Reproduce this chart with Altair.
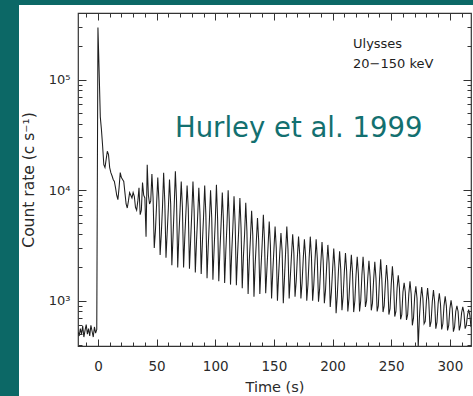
import altair as alt
import pandas as pd

# ---- data (1 s bins) ----
pre_burst = [520, 480, 560, 500, 590, 470, 540, 610, 500, 560, 480, 600, 530, 470, 580, 510, 550]
initial_spike = [296000, 120000, 46000, 35000, 25000, 17000, 16000, 19000, 22500, 21000,
                 16000, 14400, 13500, 12500, 12000, 10500, 9000, 8200, 10500, 14400,
                 13000, 12500, 12000, 9500, 7500, 6900, 8000, 9500, 9000, 8500,
                 9500, 8800, 7000, 6600, 8000, 10500, 6000, 6600, 11700, 9000]
pulsating_tail = [
    8500, 3800, 17000, 9000, 7500, 8000, 14000, 8500, 3000, 4300,
    7500, 13000, 8000, 2600, 4000, 7000, 14400, 7800, 2450, 4100,
    6800, 12500, 7500, 2100, 3800, 7200, 14800, 8000, 2000, 3900,
    6600, 12000, 7000, 2000, 3700, 6300, 11000, 6800, 1950, 3500,
    6200, 12000, 6500, 1800, 3400, 5800, 10500, 6000, 1750, 3300,
    5700, 11000, 6000, 1600, 3100, 5300, 10000, 5600, 1550, 2900,
    5200, 11200, 5500, 1500, 2900, 5000, 9500, 5200, 1450, 2800,
    4900, 10000, 5100, 1400, 2700, 4600, 8800, 4800, 1380, 2600,
    4400, 8500, 4500, 1300, 2500, 4000, 7700, 4200, 1150, 2300,
    3700, 6500, 3900, 1090, 2100, 3400, 5600, 3500, 1150, 2000,
    3300, 6000, 3400, 1170, 1900, 3100, 5200, 3200, 1050, 1800,
    2900, 4700, 3000, 1000, 1700, 2700, 4100, 2800, 950, 1600,
    2800, 4700, 2900, 1050, 1650, 2600, 4000, 2700, 1090, 1500,
    2500, 3800, 2600, 1050, 1450, 2400, 3600, 2500, 1000, 1400,
    2400, 3800, 2500, 1000, 1400, 2300, 3600, 2400, 980, 1300,
    2200, 3400, 2300, 950, 1250, 2100, 3200, 2200, 880, 1200,
    1900, 2970, 2000, 770, 1100, 1850, 2800, 1900, 820, 1100,
    1800, 2700, 1850, 800, 1050, 1750, 2600, 1800, 790, 1000,
    1700, 2500, 1750, 800, 1000, 1700, 2500, 1700, 880, 1000,
    1600, 2300, 1650, 820, 950, 1550, 2250, 1600, 800, 900,
    1550, 2370, 1550, 790, 900, 1450, 2100, 1500, 750, 850,
    1400, 2050, 1450, 720, 800, 1300, 1700, 1300, 680, 750,
    1200, 1450, 1200, 670, 750, 1150, 1500, 1150, 600, 700,
    1100, 1350, 1050, 380, 700, 1050, 1330, 1050, 620, 650,
    1000, 1300, 1000, 580, 650, 980, 1250, 980, 560, 640,
    950, 1170, 930, 550, 620, 900, 1100, 900, 540, 600,
    850, 1010, 850, 525, 580, 800, 900, 800, 540, 600,
    780, 880, 780, 560, 600, 740, 830, 740, 580,
]
counts = pre_burst + initial_spike + pulsating_tail
t_start = -17
time_s = list(range(t_start, t_start + len(counts)))

x_domain = [-17, 318]
y_domain = [390, 400000]
x_major = [0, 50, 100, 150, 200, 250, 300]
x_minor = [-10, 10, 20, 30, 40, 60, 70, 80, 90, 110, 120, 130, 140, 160, 170, 180, 190,
           210, 220, 230, 240, 260, 270, 280, 290, 310]
y_major = [1000, 10000, 100000]
y_minor = [400, 500, 600, 700, 800, 900, 2000, 3000, 4000, 5000, 6000, 7000, 8000, 9000,
           20000, 30000, 40000, 50000, 60000, 70000, 80000, 90000, 200000, 300000]
notes = ["Ulysses", "20\u2212150 keV"]
citation = ["Hurley et al. 1999"]

W, H = 393, 333
TEAL = "#0c6866"
INK = "#1e1e1e"
TXT = "#2a2a2a"
TICK = "#333333"
FONT = "DejaVu Sans"
MAJ_X, MAJ_Y, MIN_L = 7, 8, 4

xs = alt.Scale(domain=x_domain, nice=False, zero=False)
ys = alt.Scale(type="log", domain=y_domain, nice=False)


def tick_axis(orient, values, length, **kw):
    # ticks drawn outward from an axis line pulled inside the frame -> inward-looking ticks
    base = dict(orient=orient, values=values, tickSize=length, offset=-length, tickColor=TICK,
                tickWidth=1, domain=False, grid=False, zindex=2, labels=False, title=None)
    base.update(kw)
    return alt.Axis(**base)


x_axis_main = tick_axis(
    "bottom", x_major, MAJ_X, labels=True, title="Time (s)",
    labelPadding=13, labelFont=FONT, labelFontSize=13.5, labelColor=TXT,
    titleFont=FONT, titleFontSize=14.5, titleFontWeight="normal", titleColor=TXT,
    titlePadding=8)
y_axis_main = tick_axis(
    "left", y_major, MAJ_Y, labels=True, title="Count rate (c s\u207b\u00b9)",
    labelExpr="datum.value == 1000 ? '10\u00b3' : datum.value == 10000 ? '10\u2074' : '10\u2075'",
    labelPadding=8, labelFont=FONT, labelFontSize=13, labelColor=TXT,
    titleFont=FONT, titleFontSize=15.5, titleFontWeight="normal", titleColor=TXT,
    titlePadding=12)

df = pd.DataFrame({"time": time_s, "count": counts})
one = alt.Data(values=[{"k": 1}])

# teal slide strips outside the white page (left and top)
strip_left = alt.Chart(one).mark_rect(color=TEAL).encode(
    x=alt.value(-80), x2=alt.value(-59), y=alt.value(-15), y2=alt.value(H + 52)
)
strip_top = alt.Chart(one).mark_rect(color=TEAL).encode(
    x=alt.value(-80), x2=alt.value(W + 4), y=alt.value(-15), y2=alt.value(-8)
)

line = alt.Chart(df).mark_line(
    interpolate="linear", color=INK, strokeWidth=1.05, clip=True
).encode(
    x=alt.X("time:Q", scale=xs, axis=x_axis_main),
    y=alt.Y("count:Q", scale=ys, axis=y_axis_main),
)


def axis_carrier(x_ax, y_ax):
    return alt.Chart(df).mark_line(strokeOpacity=0, clip=True).encode(
        x=alt.X("time:Q", scale=xs, axis=x_ax),
        y=alt.Y("count:Q", scale=ys, axis=y_ax),
    )


carriers = [
    axis_carrier(tick_axis("bottom", x_minor, MIN_L), tick_axis("left", y_minor, MIN_L)),
    axis_carrier(tick_axis("top", x_major, MAJ_X), tick_axis("right", y_major, MAJ_Y)),
    axis_carrier(tick_axis("top", x_minor, MIN_L), tick_axis("right", y_minor, MIN_L)),
]

note1 = alt.Chart(pd.DataFrame({"label": [notes[0]]})).mark_text(
    align="left", baseline="alphabetic", font=FONT, fontSize=13, color=INK
).encode(text="label:N", x=alt.value(275), y=alt.value(35))
note2 = alt.Chart(pd.DataFrame({"label": [notes[1]]})).mark_text(
    align="left", baseline="alphabetic", font=FONT, fontSize=13, color=INK
).encode(text="label:N", x=alt.value(275), y=alt.value(55))
cite = alt.Chart(pd.DataFrame({"label": citation})).mark_text(
    align="left", baseline="alphabetic", font=FONT, fontSize=27.5, color="#137070"
).encode(text="label:N", x=alt.value(97), y=alt.value(124))

chart = alt.layer(strip_left, strip_top, line, *carriers, note1, note2, cite).resolve_axis(
    x="independent", y="independent"
).properties(
    width=W, height=H,
    autosize=alt.AutoSizeParams(type="none"),
    padding={"left": 78, "top": 13, "right": 2, "bottom": 50},
).configure(background="white").configure_view(stroke="#333", strokeWidth=1.2)

chart.save("out.html", embed_options={"renderer": "svg", "actions": False})
